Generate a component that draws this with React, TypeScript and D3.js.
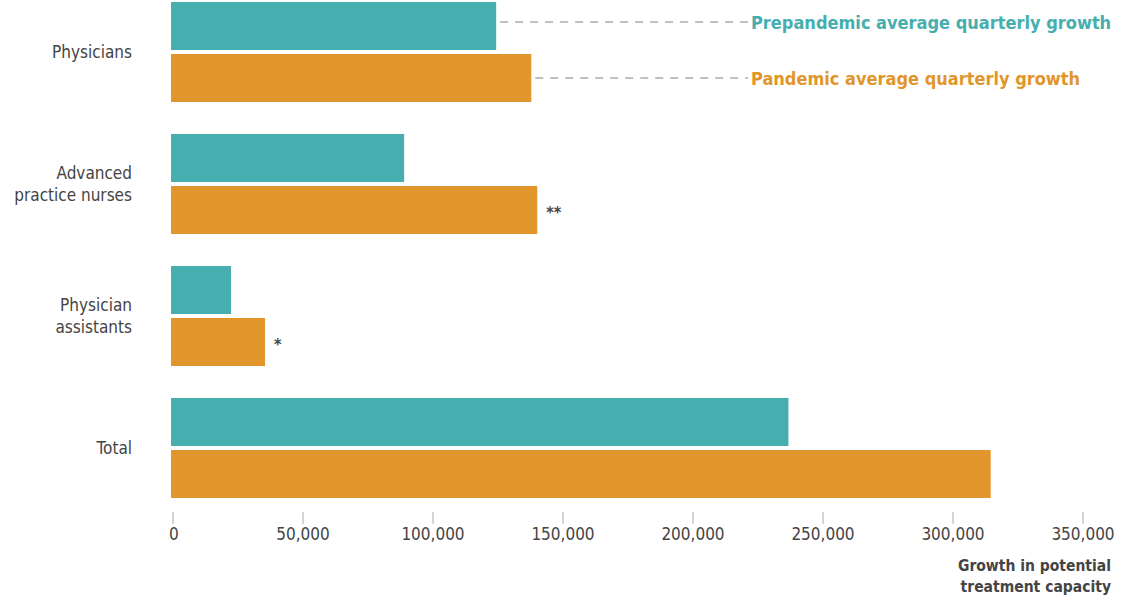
import * as d3 from "d3";
import { useEffect, useRef } from "react";

const categories = ["Physicians", "Advanced practice nurses", "Physician assistants", "Total"];
const labelLines = [["Physicians"], ["Advanced", "practice nurses"], ["Physician", "assistants"], ["Total"]];
const prepandemic = [124300, 88900, 22300, 236700];
const pandemic = [137800, 140100, 35400, 314500];
const marks = ["", "**", "*", ""];
const ticks = [0, 50000, 100000, 150000, 200000, 250000, 300000, 350000];

const teal = "#46aeae";
const orange = "#e0962a";
const font = "'DejaVu Sans Condensed', 'Liberation Sans Narrow', sans-serif";

export default function App() {
  const svgRef = useRef(null);

  useEffect(() => {
    document.body.style.margin = "0";
    const w = 1126;
    const h = 602;
    const svg = d3.select(svgRef.current).attr("width", w).attr("height", h);
    svg.selectAll("*").remove();

    const x = d3.scaleLinear().domain([0, 350000]).range([173, 1083]);
    const y = d3.scaleBand().domain(categories).range([2, 498]).paddingInner(32 / 132).paddingOuter(0);
    const sub = d3.scaleBand().domain(["pre", "pan"]).range([0, y.bandwidth()]).paddingInner(4 / 52);

    const g = svg.selectAll("g.cat").data(categories).enter().append("g")
      .attr("transform", (d) => `translate(0, ${y(d)})`);

    g.append("rect")
      .attr("x", 171)
      .attr("y", sub("pre"))
      .attr("height", sub.bandwidth())
      .attr("width", (d, i) => x(prepandemic[i]) - 171)
      .attr("fill", teal);

    g.append("rect")
      .attr("x", 171)
      .attr("y", sub("pan"))
      .attr("height", sub.bandwidth())
      .attr("width", (d, i) => x(pandemic[i]) - 171)
      .attr("fill", orange);

    g.append("text")
      .attr("x", (d, i) => x(pandemic[i]) + 9)
      .attr("y", sub("pan") + sub.bandwidth() / 2 + 8)
      .attr("font-family", font)
      .attr("font-size", 16)
      .attr("font-weight", "bold")
      .attr("fill", "#444")
      .text((d, i) => marks[i]);

    g.each(function (d, i) {
      const lines = labelLines[i];
      const t = d3.select(this).append("text")
        .attr("text-anchor", "end")
        .attr("font-family", font)
        .attr("font-size", 17)
        .attr("fill", "#444");
      const mid = y.bandwidth() / 2 + 6 - (lines.length - 1) * 11;
      lines.forEach((l, k) => {
        t.append("tspan").attr("x", 132).attr("y", mid + k * 22).text(l);
      });
    });

    // legend leaders
    const legend = [
      { v: prepandemic[0], key: "pre", off: -4, label: "Prepandemic average quarterly growth", color: teal },
      { v: pandemic[0], key: "pan", off: 0, label: "Pandemic average quarterly growth", color: orange },
    ];
    legend.forEach((l) => {
      const cy = (y(categories[0]) as number) + (sub(l.key) as number) + sub.bandwidth() / 2 + l.off;
      svg.append("line")
        .attr("x1", x(l.v) + 4)
        .attr("x2", 748)
        .attr("y1", cy)
        .attr("y2", cy)
        .attr("stroke", "#808080")
        .attr("stroke-width", 1)
        .attr("stroke-dasharray", "8,7");
      svg.append("text")
        .attr("x", 751)
        .attr("y", cy + 6.5)
        .attr("font-family", font)
        .attr("font-size", 18)
        .attr("font-weight", "bold")
        .attr("fill", l.color)
        .text(l.label);
    });

    const axis = svg.append("g").attr("transform", "translate(0, 512)");
    axis.selectAll("line").data(ticks).enter().append("line")
      .attr("x1", (d) => x(d)).attr("x2", (d) => x(d))
      .attr("y1", 0).attr("y2", 12)
      .attr("stroke", "#aaa");
    axis.selectAll("text").data(ticks).enter().append("text")
      .attr("x", (d) => x(d))
      .attr("y", 28)
      .attr("text-anchor", (d) => (d === 0 ? "start" : "middle"))
      .attr("dx", (d) => (d === 0 ? -4 : 0))
      .attr("font-family", font)
      .attr("font-size", 17)
      .attr("fill", "#444")
      .text((d) => d3.format(",")(d));

    const title = svg.append("text")
      .attr("text-anchor", "end")
      .attr("font-family", font)
      .attr("font-size", 15.5)
      .attr("font-weight", "bold")
      .attr("fill", "#444");
    title.append("tspan").attr("x", 1111).attr("y", 571).text("Growth in potential");
    title.append("tspan").attr("x", 1111).attr("y", 592).text("treatment capacity");
  }, []);

  return <svg ref={svgRef}></svg>;
}
